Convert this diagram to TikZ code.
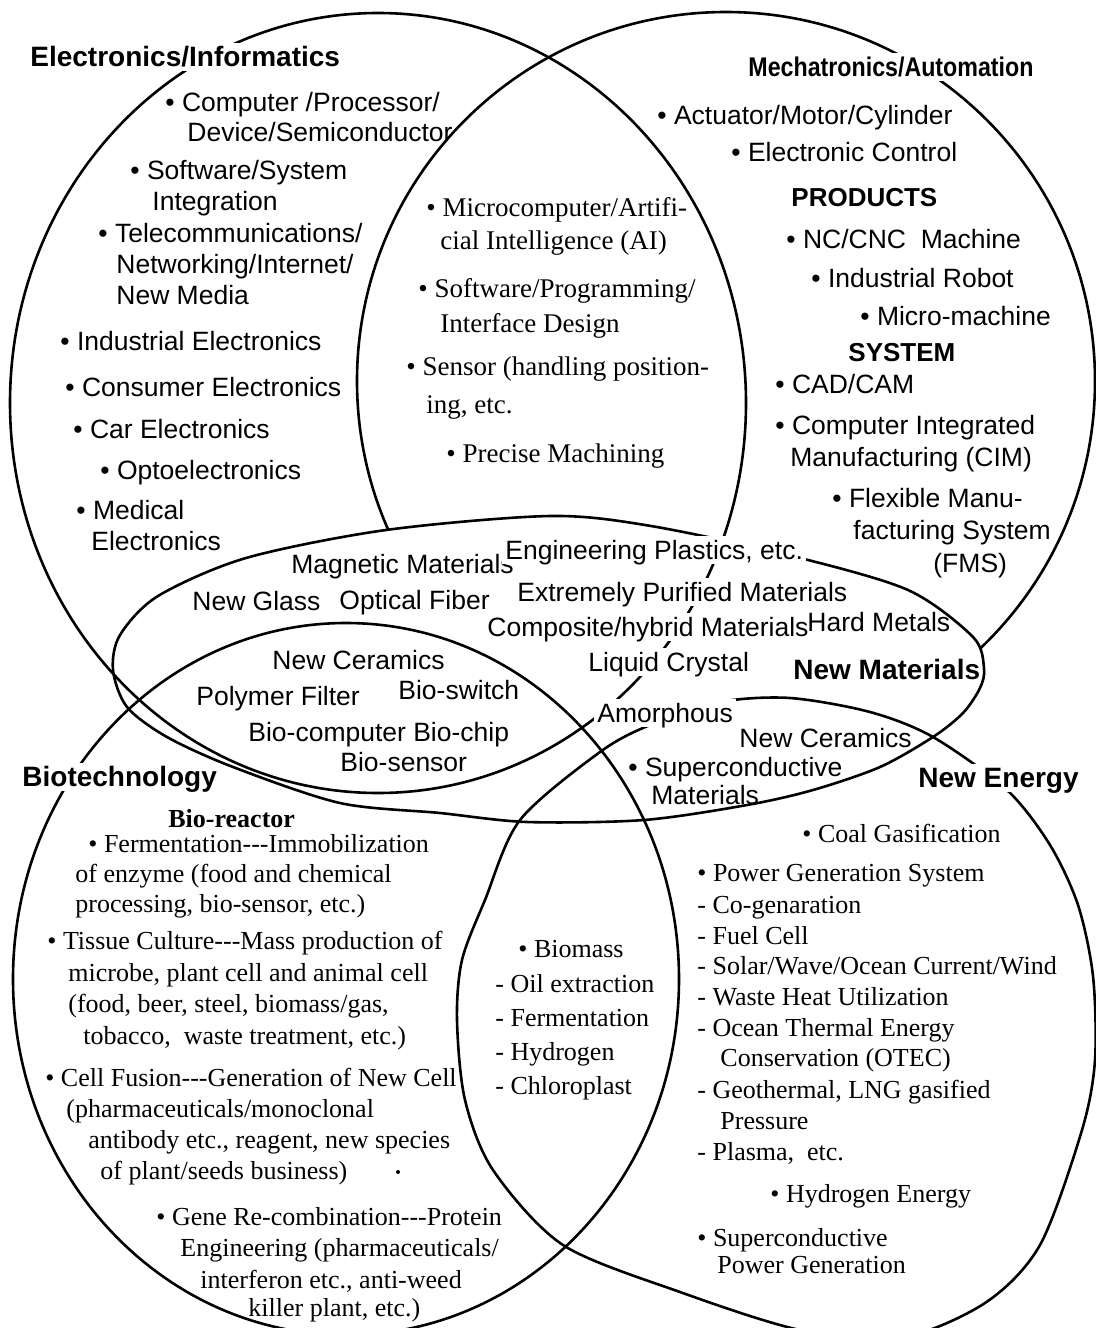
\documentclass[tikz,border=0pt]{standalone}
\usepackage{fontspec}
\setmainfont{Liberation Serif}
\setsansfont{Liberation Sans}
\usepackage{graphicx}
\newcommand{\tdash}{\mbox{-}\mbox{-}\mbox{-}}
\begin{document}
\begin{tikzpicture}[x=0.5pt,y=-0.5pt,
  shapeline/.style={line width=1.3pt, line join=round},
  base/.style={anchor=west, inner sep=0pt, text height=9.5pt, text depth=0pt},
  sn/.style={base, font=\sffamily\fontsize{13.25}{15}\selectfont},
  sb/.style={base, font=\sffamily\bfseries\fontsize{14}{16}\selectfont},
  rm/.style={base, font=\rmfamily\fontsize{13}{15}\selectfont},
  rmx/.style={base, font=\rmfamily\fontsize{13.5}{15}\selectfont},
  rb/.style={base, font=\rmfamily\bfseries\fontsize{13}{15}\selectfont},
  cover/.style={fill=white, inner xsep=1.5pt, inner ysep=0.5pt, text height=11pt, text depth=2pt},
]
\fill[white] (0,0) rectangle (1096,1328);
\useasboundingbox (0,0) rectangle (1096,1328);

% Mechatronics circle (hidden inside New Materials)
\draw[shapeline] (726,381) circle [radius=184.5pt];
% white interior of New Materials
\fill[white] plot[smooth cycle] coordinates {(113,670) (120,635) (158,596) (246,558) (386,530) (550,516) (651,526) (792,556) (908,590) (973,637) (984,668) (980,688) (963,713) (933,737) (880,767) (813,790) (747,805) (644,820) (527,822) (440,813) (340,803) (233,767) (167,737) (127,707)};
% Electronics
\draw[shapeline] (378,403) ellipse [x radius=184pt, y radius=195pt];
% Biotechnology
\draw[shapeline] (346,979) ellipse [x radius=166.5pt, y radius=178pt];
% New Energy
\draw[shapeline] plot[smooth cycle] coordinates {(520,820) (600,752) (650,725) (720,702) (790,698) (870,712) (933,737) (1007,790) (1050,845) (1078,905) (1093,976) (1095,1060) (1082,1130) (1040,1245) (985,1303) (900,1338) (800,1330) (680,1292) (563,1245) (493,1170) (465,1100) (457,1020) (462,960) (485,900)};
% New Materials border
\draw[shapeline] plot[smooth cycle] coordinates {(113,670) (120,635) (158,596) (246,558) (386,530) (550,516) (651,526) (792,556) (908,590) (973,637) (984,668) (980,688) (963,713) (933,737) (880,767) (813,790) (747,805) (644,820) (527,822) (440,813) (340,803) (233,767) (167,737) (127,707)};

% Electronics / Informatics
\node[sb,cover] (eL) at (27,57) {Electronics/Informatics};
\node[sn] (e1) at (165,102) {• Computer /Processor/};
\node[sn] (e2) at (187,132) {Device/Semiconductor};
\node[sn] (e3) at (130,170) {• Software/System};
\node[sn] (e4) at (152,201) {Integration};
\node[sn] (e5) at (98,233) {• Telecommunications/};
\node[sn] (e6) at (116,264) {Networking/Internet/};
\node[sn] (e7) at (116,295) {New Media};
\node[sn] (e8) at (60,341) {• Industrial Electronics};
\node[sn] (e9) at (65,387) {• Consumer Electronics};
\node[sn] (e10) at (73,429) {• Car Electronics};
\node[sn] (e11) at (100,470) {• Optoelectronics};
\node[sn] (e12) at (76,510) {• Medical};
\node[sn] (e13) at (91,541) {Electronics};

% Electronics x Mechatronics
\node[rmx] (x1) at (426,207) {• Microcomputer/Artifi-};
\node[rmx] (x2) at (440,240) {cial Intelligence (AI)};
\node[rmx] (x3) at (418,288) {• Software/Programming/};
\node[rmx] (x4) at (440,323) {Interface Design};
\node[rmx] (x5) at (406,366) {• Sensor (handling position-};
\node[rmx] (x6) at (426,404) {ing, etc.};
\node[rmx] (x7) at (446,453) {• Precise Machining};

% Mechatronics / Automation
\node[sb,cover,font=\sffamily\bfseries\fontsize{13.5}{16}\selectfont] (mL) at (745,67) {\scalebox{0.86}[1]{Mechatronics/Automation}};
\node[sn] (m1) at (657,115) {• Actuator/Motor/Cylinder};
\node[sn] (m2) at (731,152) {• Electronic Control};
\node[sb,font=\sffamily\bfseries\fontsize{13}{16}\selectfont] (m3) at (791,197) {PRODUCTS};
\node[sn] (m4) at (786,239) {• NC/CNC\ \ Machine};
\node[sn] (m5) at (811,278) {• Industrial Robot};
\node[sn] (m6) at (860,316) {• Micro-machine};
\node[sb,font=\sffamily\bfseries\fontsize{13}{16}\selectfont] (m7) at (848,352) {SYSTEM};
\node[sn] (m8) at (775,384) {• CAD/CAM};
\node[sn] (m9) at (775,425) {• Computer Integrated};
\node[sn] (m10) at (790,457) {Manufacturing (CIM)};
\node[sn] (m11) at (832,498) {• Flexible Manu-};
\node[sn] (m12) at (853,530) {facturing System};
\node[sn] (m13) at (933,563) {(FMS)};

% New Materials
\node[sn] (n1) at (291,564) {Magnetic Materials};
\node[sn,cover] (n2) at (502,550) {Engineering Plastics, etc.};
\node[sn] (n3) at (192,601) {New Glass};
\node[sn] (n4) at (339,600) {Optical Fiber};
\node[sn,cover] (n5) at (514,592) {Extremely Purified Materials};
\node[sn,cover] (n6) at (484,627) {Composite/hybrid Materials};
\node[sn] (n7) at (807,622) {Hard Metals};
\node[sn,cover] (n8) at (585,662) {Liquid Crystal};
\node[sb] (nL) at (793,670) {New Materials};
\node[sn] (n9) at (272,660) {New Ceramics};
\node[sn] (n10) at (196,696) {Polymer Filter};
\node[sn] (n11) at (398,690) {Bio-switch};
\node[sn] (n12) at (248,732) {Bio-computer Bio-chip};
\node[sn] (n13) at (340,762) {Bio-sensor};
\node[sn,cover] (n14) at (594,713) {Amorphous};
\node[sn] (n15) at (739,738) {New Ceramics};
\node[sn] (n16) at (628,767) {• Superconductive};
\node[sn] (n17) at (651,795) {Materials};

% Main labels
\node[sb,cover] (bL) at (19,777) {Biotechnology};
\node[sb,cover] (gL) at (915,778) {New Energy};

% Biotechnology
\node[rb] (b0) at (168,818) {Bio-reactor};
\node[rm] (b1) at (88,843) {• Fermentation\tdash Immobilization};
\node[rm] (b2) at (75,873) {of enzyme (food and chemical};
\node[rm] (b3) at (75,903) {processing, bio-sensor, etc.)};
\node[rm] (b4) at (47,940) {• Tissue Culture\tdash Mass production of};
\node[rm] (b5) at (68,972) {microbe, plant cell and animal cell};
\node[rm] (b6) at (68,1003) {(food, beer, steel, biomass/gas,};
\node[rm] (b7) at (83,1035) {tobacco,\ \ waste treatment, etc.)};
\node[rm] (b8) at (45,1077) {• Cell Fusion\tdash Generation of New Cell};
\node[rm] (b9) at (66,1108) {(pharmaceuticals/monoclonal};
\node[rm] (b10) at (88,1139) {antibody etc., reagent, new species};
\node[rm] (b11) at (100,1170) {of plant/seeds business)};
\fill (398,1172) circle [radius=1pt];
\node[rm] (b12) at (156,1216) {• Gene Re-combination\tdash Protein};
\node[rm] (b13) at (180,1247) {Engineering (pharmaceuticals/};
\node[rm] (b14) at (200,1279) {interferon etc., anti-weed};
\node[rm] (b15) at (248,1307) {killer plant, etc.)};

% Biotech x Energy
\node[rm] (c1) at (518,948) {• Biomass};
\node[rm] (c2) at (495,983) {- Oil extraction};
\node[rm] (c3) at (495,1017) {- Fermentation};
\node[rm] (c4) at (495,1051) {- Hydrogen};
\node[rm] (c5) at (495,1085) {- Chloroplast};

% New Energy
\node[rm] (g1) at (802,833) {• Coal Gasification};
\node[rm] (g2) at (697,872) {• Power Generation System};
\node[rm] (g3) at (697,904) {- Co-genaration};
\node[rm] (g4) at (697,935) {- Fuel Cell};
\node[rm] (g5) at (697,965) {- Solar/Wave/Ocean Current/Wind};
\node[rm] (g6) at (697,996) {- Waste Heat Utilization};
\node[rm] (g7) at (697,1027) {- Ocean Thermal Energy};
\node[rm] (g8) at (720,1057) {Conservation (OTEC)};
\node[rm] (g9) at (697,1089) {- Geothermal, LNG gasified};
\node[rm] (g10) at (720,1120) {Pressure};
\node[rm] (g11) at (697,1151) {- Plasma,\ \ etc.};
\node[rm] (g12) at (770,1193) {• Hydrogen Energy};
\node[rm] (g13) at (697,1237) {• Superconductive};
\node[rm] (g14) at (717,1264) {Power Generation};
\end{tikzpicture}
\end{document}
